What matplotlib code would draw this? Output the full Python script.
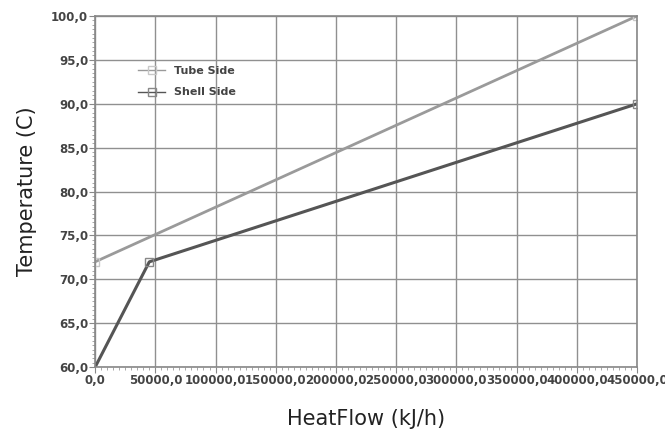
import numpy as np
import matplotlib.pyplot as plt
from matplotlib.ticker import MultipleLocator, FuncFormatter

# data
tube_q = [0.0, 450000.0]
tube_t = [72.0, 100.0]
shell_q = [0.0, 45000.0, 450000.0]
shell_t = [60.0, 72.0, 90.0]


def comma_fmt(v, pos):
    return ('%.1f' % v).replace('.', ',')


fig = plt.figure(figsize=(6.65, 4.32), dpi=100, facecolor='w')
ax = fig.add_axes([0.143, 0.150, 0.815, 0.813])

ax.plot(tube_q, tube_t, '-', color='#9a9a9a', linewidth=2,
        marker='s', markersize=6, mfc='none', mec='#c8c8c8', label='Tube Side')
ax.plot(shell_q, shell_t, '-', color='#555555', linewidth=2.2,
        marker='s', markersize=6, mfc='none', mec='#888888', markevery=[1, 2],
        label='Shell Side')

ax.set_xlim(0, 450000)
ax.set_ylim(60, 100)
ax.xaxis.set_major_locator(MultipleLocator(50000))
ax.xaxis.set_minor_locator(MultipleLocator(5000))
ax.yaxis.set_major_locator(MultipleLocator(5))
ax.yaxis.set_minor_locator(MultipleLocator(0.5))
ax.xaxis.set_major_formatter(FuncFormatter(comma_fmt))
ax.yaxis.set_major_formatter(FuncFormatter(comma_fmt))

ax.grid(True, which='major', color='#909090', linewidth=1.0)
ax.tick_params(which='major', direction='out', length=4, color='#888888',
               labelsize=8.5, labelcolor='#444444', pad=1)
ax.tick_params(which='minor', direction='out', length=2, color='#999999')
for lab in ax.get_xticklabels() + ax.get_yticklabels():
    lab.set_fontweight('bold')
for s in ax.spines.values():
    s.set_color('#888888')
    s.set_linewidth(1.2)

ax.set_xlabel('HeatFlow (kJ/h)', fontsize=15, color='#222222', labelpad=16)
ax.set_ylabel('Temperature (C)', fontsize=15, color='#222222', labelpad=10)

leg = ax.legend(loc='upper left', bbox_to_anchor=(0.06, 0.885), frameon=False,
                fontsize=8, handlelength=2.5, labelspacing=1.0)
for t in leg.get_texts():
    t.set_color('#444444')
    t.set_fontweight('bold')
for ln in leg.get_lines():
    ln.set_linewidth(1.0)

fig.savefig('out.png', dpi=100, facecolor='w')
